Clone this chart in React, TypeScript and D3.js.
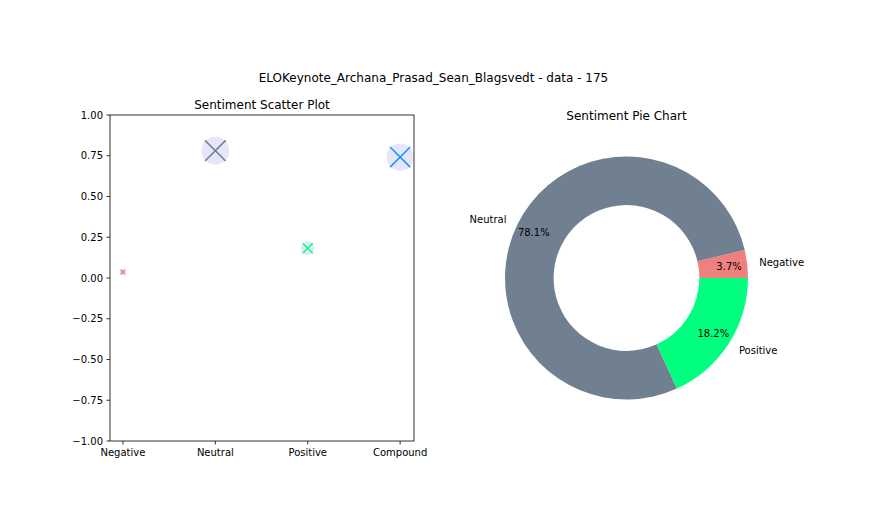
import React from "react";
import * as d3 from "d3";

const categories = ["Negative", "Neutral", "Positive", "Compound"];
const scores = [0.037, 0.781, 0.182, 0.742];
const markerColors = ["#F08080", "#708090", "#00FF7F", "#1E90FF"];
const yTicks = [-1, -0.75, -0.5, -0.25, 0, 0.25, 0.5, 0.75, 1];

const pieLabels = ["Negative", "Neutral", "Positive"];
const pieValues = [0.037, 0.781, 0.182];
const pieColors = ["#F08080", "#708090", "#00FF7F"];

const W = 876;
const H = 530;
const font = "DejaVu Sans, sans-serif";

export default function App() {
  const ax = { left: 110, right: 414, top: 115, bottom: 441 };
  const x = d3.scaleLinear().domain([-0.14, 3.15]).range([ax.left, ax.right]);
  const y = d3.scaleLinear().domain([-1, 1]).range([ax.bottom, ax.top]);
  const fmt = (v: number) => d3.format(".2f")(v).replace("-", "\u2212");

  const cx = 626.5;
  const cy = 278;
  const R = 121.5;
  const pie = d3
    .pie<number>()
    .sort(null)
    .startAngle(Math.PI / 2)
    .endAngle(Math.PI / 2 - 2 * Math.PI);
  const arcs = pie(pieValues);
  const arc = d3.arc<d3.PieArcDatum<number>>().innerRadius(R * 0.6).outerRadius(R);
  const total = d3.sum(pieValues);

  return (
    <svg
      width={W}
      height={H}
      style={{ position: "absolute", left: 0, top: 0, background: "#fff" }}
      fontFamily={font}
    >
      <rect width={W} height={H} fill="#fff" />
      <text x={433.5} y={82} fontSize={12} textAnchor="middle">
        ELOKeynote_Archana_Prasad_Sean_Blagsvedt - data - 175
      </text>

      {/* Scatter */}
      <text x={(ax.left + ax.right) / 2} y={109} fontSize={12} textAnchor="middle">
        Sentiment Scatter Plot
      </text>
      {scores.map((v, i) => {
        const d = Math.sqrt(Math.abs(v) * 1000);
        return (
          <circle key={"c" + i} cx={x(i)} cy={y(v)} r={d / 2} fill="#E6E6FA" />
        );
      })}
      {scores.map((v, i) => {
        const h = Math.sqrt(Math.abs(v) * 1000) * 0.37;
        const px = x(i);
        const py = y(v);
        return (
          <path
            key={"x" + i}
            d={`M${px - h},${py - h}L${px + h},${py + h}M${px - h},${py + h}L${px + h},${py - h}`}
            stroke={markerColors[i]}
            strokeWidth={1.5}
            fill="none"
          />
        );
      })}
      <rect
        x={ax.left}
        y={ax.top}
        width={ax.right - ax.left}
        height={ax.bottom - ax.top}
        fill="none"
        stroke="#000"
        strokeWidth={0.8}
      />
      {yTicks.map((t) => (
        <g key={"yt" + t}>
          <line x1={ax.left - 3.5} x2={ax.left} y1={y(t)} y2={y(t)} stroke="#000" strokeWidth={0.8} />
          <text x={ax.left - 7} y={y(t)} dy="0.35em" fontSize={10} textAnchor="end">
            {fmt(t)}
          </text>
        </g>
      ))}
      {categories.map((c, i) => (
        <g key={"xt" + c}>
          <line x1={x(i)} x2={x(i)} y1={ax.bottom} y2={ax.bottom + 3.5} stroke="#000" strokeWidth={0.8} />
          <text x={x(i)} y={ax.bottom + 15} fontSize={10} textAnchor="middle">
            {c}
          </text>
        </g>
      ))}

      {/* Pie */}
      <text x={cx} y={120} fontSize={12} textAnchor="middle">
        Sentiment Pie Chart
      </text>
      <g transform={`translate(${cx},${cy})`}>
        {arcs.map((a, i) => (
          <path key={"p" + i} d={arc(a) || ""} fill={pieColors[i]} />
        ))}
        {arcs.map((a, i) => {
          const m = (a.startAngle + a.endAngle) / 2;
          const lx = 1.1 * R * Math.sin(m);
          const ly = -1.1 * R * Math.cos(m);
          const px = 0.85 * R * Math.sin(m);
          const py = -0.85 * R * Math.cos(m);
          return (
            <g key={"pl" + i}>
              <text x={lx} y={ly} dy="0.35em" fontSize={10} textAnchor={lx > 0 ? "start" : "end"}>
                {pieLabels[i]}
              </text>
              <text x={px} y={py} dy="0.35em" fontSize={10} textAnchor="middle">
                {((a.data / total) * 100).toFixed(1)}%
              </text>
            </g>
          );
        })}
      </g>
    </svg>
  );
}
